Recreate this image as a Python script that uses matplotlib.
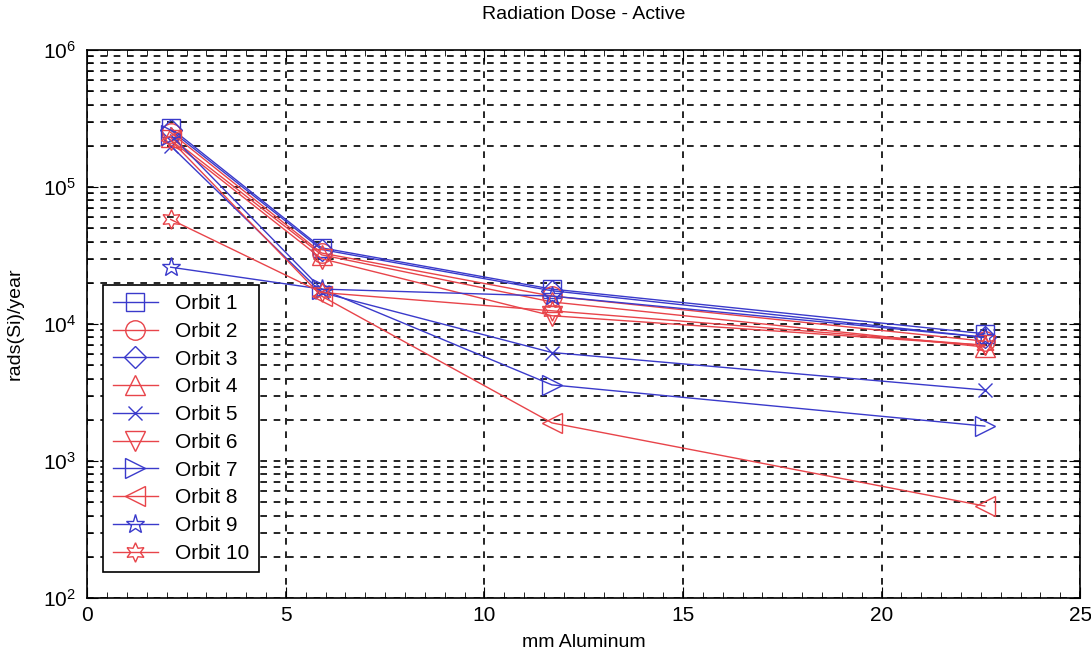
import matplotlib
matplotlib.use("Agg")
import matplotlib.pyplot as plt
from matplotlib.ticker import LogLocator, MultipleLocator, NullFormatter

plt.rcParams['font.family'] = ['Liberation Sans', 'DejaVu Sans']

thickness_mm = [2.1, 5.9, 11.7, 22.6]
orbit_names = ["Orbit 1", "Orbit 2", "Orbit 3", "Orbit 4", "Orbit 5",
               "Orbit 6", "Orbit 7", "Orbit 8", "Orbit 9", "Orbit 10"]
orbit1 = [2.7e5, 3.6e4, 1.8e4, 8.5e3]
orbit2 = [2.5e5, 3.3e4, 1.6e4, 7.5e3]
orbit3 = [2.6e5, 3.5e4, 1.75e4, 8.0e3]
orbit4 = [2.3e5, 3.2e4, 1.45e4, 6.8e3]
orbit5 = [2.0e5, 1.7e4, 6.2e3, 3.3e3]
orbit6 = [2.2e5, 3.0e4, 1.15e4, 7.0e3]
orbit7 = [2.4e5, 1.8e4, 3.6e3, 1.8e3]
orbit8 = [2.2e5, 1.6e4, 1.9e3, 4.7e2]
orbit9 = [2.6e4, 1.8e4, 1.6e4, 8.0e3]
orbit10 = [5.8e4, 1.7e4, 1.25e4, 7.0e3]
series = [orbit1, orbit2, orbit3, orbit4, orbit5, orbit6, orbit7, orbit8, orbit9, orbit10]

blue = "#3a3acb"
red = "#e8444a"
colors = [blue, red, blue, red, blue, red, blue, red, blue, red]
markers = ["s", "o", "D", "^", "x", "v", ">", "<", "*", (6, 1, 0)]
msizes = [13, 14, 11, 14, 10, 14, 14, 14, 14, 14]

fig = plt.figure(figsize=(10.91, 6.58), dpi=100)
ax = fig.add_axes([0.080, 0.091, 0.910, 0.833])

for vals, name, c, m, ms in zip(series, orbit_names, colors, markers, msizes):
    ax.plot(thickness_mm, vals, color=c, marker=m, markersize=ms,
            markerfacecolor="none", markeredgecolor=c, markeredgewidth=1.0,
            linewidth=1.0, label=name)

ax.set_yscale("log")
ax.set_xlim(0, 25)
ax.set_ylim(1e2, 1e6)
ax.xaxis.set_major_locator(MultipleLocator(5))
ax.xaxis.set_minor_locator(MultipleLocator(0.5))
ax.yaxis.set_major_locator(LogLocator(base=10, numticks=10))
ax.yaxis.set_minor_locator(LogLocator(base=10, subs=range(2, 10), numticks=50))
ax.yaxis.set_minor_formatter(NullFormatter())

ax.grid(True, which="major", axis="x", color="black", linestyle=(0, (4, 4)), linewidth=1.2)
ax.grid(True, which="both", axis="y", color="black", linestyle=(0, (4, 4)), linewidth=1.2)
ax.tick_params(which="both", direction="in", top=True, right=True, labelsize=15)
ax.tick_params(which="major", length=8)
ax.tick_params(which="minor", length=4)
ax.tick_params(axis="y", which="major", pad=8)
ax.tick_params(axis="x", which="major", pad=6)
for s in ax.spines.values():
    s.set_linewidth(1.2)

ax.set_title("Radiation Dose - Active", fontsize=14, pad=22)
ax.set_xlabel("mm Aluminum", fontsize=14, labelpad=6)
ax.set_ylabel("rads(Si)/year", fontsize=14, labelpad=14)

leg = ax.legend(loc="lower left", bbox_to_anchor=(0.016, 0.047), borderaxespad=0,
                fontsize=15, frameon=True, fancybox=False, edgecolor="black",
                handlelength=2.2, labelspacing=0.42, borderpad=0.45)
leg.get_frame().set_linewidth(1.2)
leg.get_frame().set_alpha(1)

fig.savefig("out.png", dpi=100)
